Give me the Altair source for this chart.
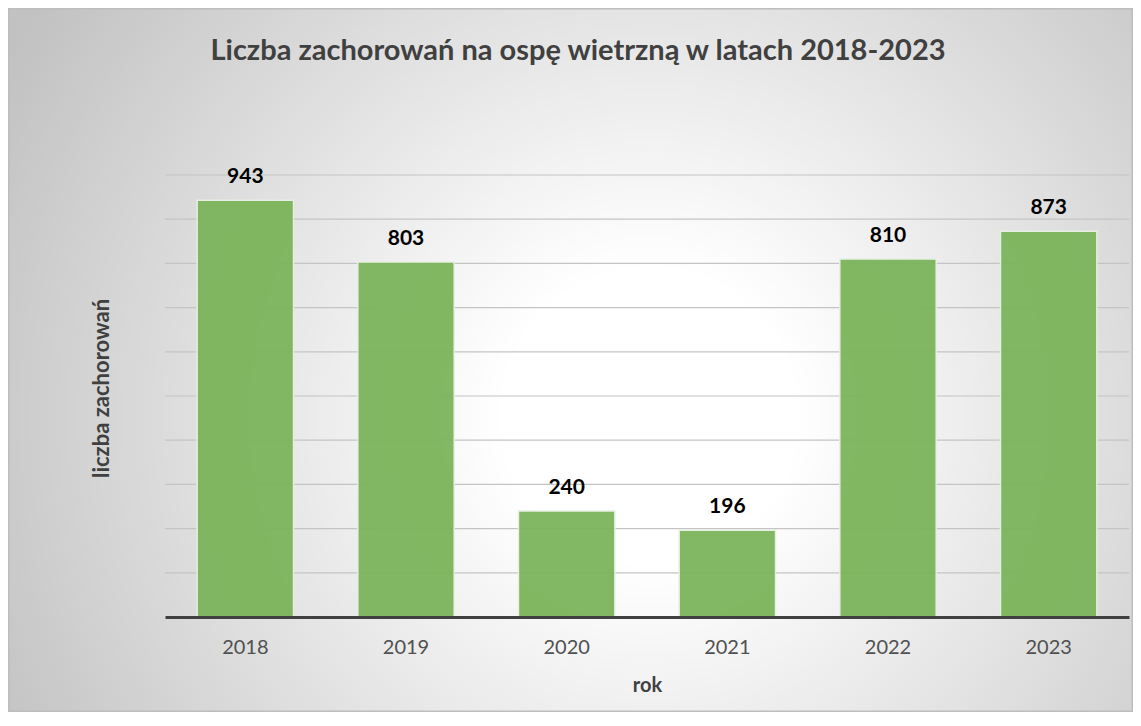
import altair as alt
import pandas as pd

years = ["2018", "2019", "2020", "2021", "2022", "2023"]
cases = [943, 803, 240, 196, 810, 873]
grid_values = [100, 200, 300, 400, 500, 600, 700, 800, 900, 1000]

df = pd.DataFrame({"rok": years, "liczba": cases})
gdf = pd.DataFrame({"liczba": grid_values})

W, H = 964, 442
PL, PT, PR, PB = 157, 167, 4, 95
FONT = "Lato"

bg = alt.Chart(alt.Data(values=[{}])).mark_rect(
    fill={
        "gradient": "radial",
        "x1": 0.57, "y1": 0.55, "r1": 0,
        "x2": 0.57, "y2": 0.55, "r2": 0.65,
        "stops": [
            {"offset": 0, "color": "#ffffff"},
            {"offset": 0.2, "color": "#ffffff"},
            {"offset": 1, "color": "#c2c2c2"},
        ],
    },
    stroke="#bdbdbd",
    strokeWidth=1.5,
).encode(
    x=alt.value(-PL + 0.75),
    x2=alt.value(W + PR - 0.75),
    y=alt.value(-PT + 0.75),
    y2=alt.value(H + PB - 0.75),
)

yscale = alt.Scale(domain=[0, 1000])

yaxis = alt.Axis(
    title="liczba zachorowań",
    labels=False,
    ticks=False,
    domain=False,
    grid=False,
    titleFont=FONT,
    titleFontSize=22,
    titleFontWeight="bold",
    titleColor="#404040",
    titlePadding=52,
    titleY=H / 2 - 8,
    zindex=1,
)

grid = alt.Chart(gdf).mark_rule(color="#c4c4c4", strokeWidth=1.2).encode(
    y=alt.Y("liczba:Q", scale=yscale, axis=yaxis)
)

xenc = alt.X(
    "rok:N",
    sort=years,
    scale=alt.Scale(paddingInner=0.4, paddingOuter=0.2),
    axis=alt.Axis(
        title="rok",
        labelAngle=0,
        labelFont=FONT,
        labelFontSize=20,
        labelColor="#505050",
        labelPadding=20,
        ticks=False,
        domainColor="#404040",
        domainWidth=3,
        titleFont=FONT,
        titleFontSize=20,
        titleFontWeight="bold",
        titleColor="#404040",
        titlePadding=18,
        zindex=1,
        grid=False,
    ),
)

bars = alt.Chart(df).mark_bar(
    color="#7cb45b", stroke="#e8f0e2", strokeWidth=1.5, opacity=0.95
).encode(x=xenc, y=alt.Y("liczba:Q", scale=yscale, axis=yaxis))

labels = alt.Chart(df).mark_text(
    baseline="bottom", dy=-13, font=FONT, fontSize=21, fontWeight="bold", color="#000000"
).encode(
    x=alt.X("rok:N", sort=years),
    y=alt.Y("liczba:Q", scale=yscale, axis=yaxis),
    text="liczba:Q",
)

chart = (
    alt.layer(bg, grid, bars, labels)
    .properties(
        width=W,
        height=H,
        padding={"left": PL, "top": PT, "right": PR, "bottom": PB},
        autosize=alt.AutoSizeParams(type="none"),
        title=alt.TitleParams(
            "Liczba zachorowań na ospę wietrzną w latach 2018-2023",
            font=FONT,
            fontSize=29,
            fontWeight="bold",
            color="#404040",
            offset=-58,
            dx=-69,
            zindex=1,
        ),
    )
    .configure_view(stroke=None)
    .configure(background="#ffffff")
)

chart.save("out.html", embed_options={"renderer": "svg", "actions": False})
